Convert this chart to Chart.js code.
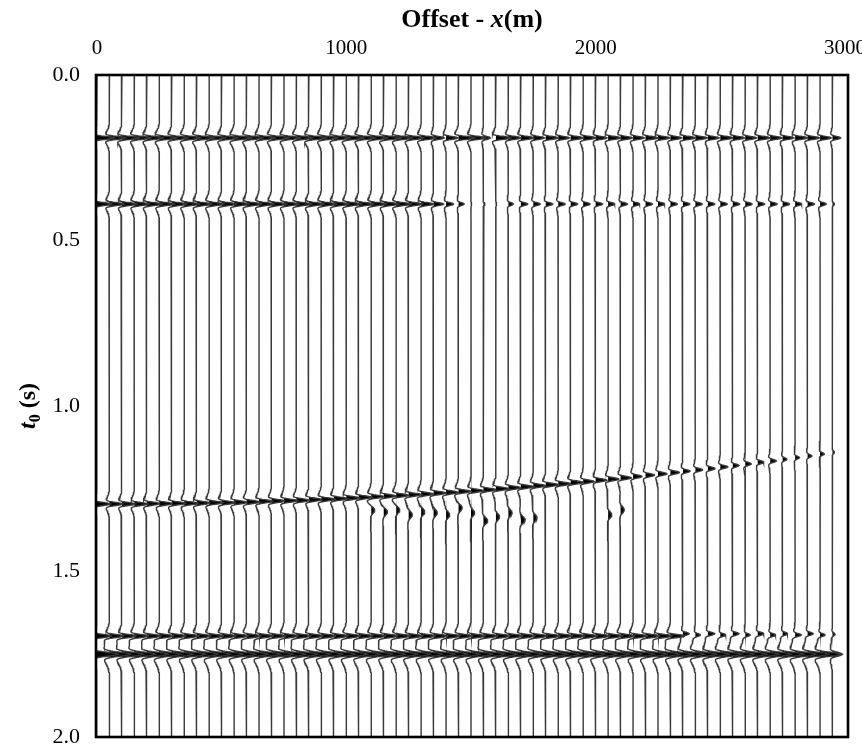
<!DOCTYPE html>
<html>
<head>
<meta charset="utf-8">
<script src="https://cdn.jsdelivr.net/npm/chart.js@4.4.1/dist/chart.umd.min.js"></script>
<style>
  html, body { margin: 0; padding: 0; background: #fff; }
  canvas { display: block; }
</style>
</head>
<body>
<canvas id="gather" width="862" height="746"></canvas>
<script>
// Receiver offsets (m), one wiggle trace per offset
const offsets = [
  0, 50, 100, 150, 200, 250, 300, 350, 400, 450,
  500, 550, 600, 650, 700, 750, 800, 850, 900, 950,
  1000, 1050, 1100, 1150, 1200, 1250, 1300, 1350, 1400, 1450,
  1500, 1550, 1600, 1650, 1700, 1750, 1800, 1850, 1900, 1950,
  2000, 2050, 2100, 2150, 2200, 2250, 2300, 2350, 2400, 2450,
  2500, 2550, 2600, 2650, 2700, 2750, 2800, 2850, 2900, 2950
];

// Axis tick values
const offsetTicks = [0, 1000, 2000, 3000];
const timeTicks = [0, 0.5, 1.0, 1.5, 2.0];

// Zero-phase source pulse, sampled every 2 ms from -40 ms to +40 ms
const pulse = [
  -0.022, -0.029, -0.037, -0.047, -0.059, -0.073, -0.090, -0.108, -0.129, -0.151,
  -0.175, -0.199, -0.221, -0.236, -0.228, -0.168, -0.017, 0.247, 0.584, 0.881,
  1.000,
  0.881, 0.584, 0.247, -0.017, -0.168, -0.228, -0.236, -0.221, -0.199, -0.175,
  -0.151, -0.129, -0.108, -0.090, -0.073, -0.059, -0.047, -0.037, -0.029, -0.022
];

// Reflection 1: flat at 0.19 s; amplitudes in trace spacings
const r1Time = 0.19;
const r1Amp = [
  1.4, 1.3, 1.4, 1.3, 1.3, 1.4, 1.3, 1.3, 1.4, 1.3,
  1.3, 1.4, 1.3, 1.3, 1.4, 1.3, 1.3, 1.4, 1.3, 1.3,
  1.4, 1.3, 1.3, 1.4, 1.3, 1.2, 1.2, 0.85, 0.95, 1.3,
  1.2, 0.55, 1.2, 1.0, 1.05, 0.9, 1.0, 0.9, 1.0, 1.0,
  0.9, 1.0, 0.95, 0.9, 1.0, 0.95, 0.9, 1.0, 0.95, 0.9,
  1.0, 0.95, 0.9, 1.0, 0.95, 0.9, 1.0, 0.95, 0.9, 0.65
];

// Reflection 2: flat at 0.39 s, dim between 1500 and 1600 m
const r2Time = 0.39;
const r2Amp = [
  1.2, 1.2, 1.2, 1.2, 1.2, 1.2, 1.2, 1.2, 1.2, 1.2,
  1.2, 1.2, 1.2, 1.2, 1.2, 1.2, 1.2, 1.2, 1.2, 1.2,
  1.2, 1.2, 1.2, 1.2, 1.2, 1.1, 1.0, 0.8, 0.6, 0.45,
  0.05, 0.12, 0.05, 0.4, 0.55, 0.55, 0.55, 0.55, 0.55, 0.55,
  0.55, 0.55, 0.55, 0.55, 0.55, 0.55, 0.55, 0.55, 0.55, 0.55,
  0.55, 0.55, 0.55, 0.55, 0.55, 0.55, 0.55, 0.55, 0.5, 0.15
];

// Reflection 3: rises from 1.30 s to 1.14 s across the spread
const r3Time = [
  1.296, 1.296, 1.296, 1.296, 1.295, 1.295, 1.294, 1.294, 1.293, 1.292,
  1.292, 1.291, 1.290, 1.288, 1.287, 1.286, 1.285, 1.283, 1.282, 1.280,
  1.278, 1.276, 1.274, 1.272, 1.270, 1.268, 1.266, 1.263, 1.261, 1.258,
  1.256, 1.253, 1.250, 1.247, 1.244, 1.241, 1.238, 1.235, 1.231, 1.228,
  1.224, 1.221, 1.217, 1.213, 1.209, 1.205, 1.201, 1.197, 1.193, 1.189,
  1.184, 1.180, 1.175, 1.170, 1.166, 1.161, 1.156, 1.151, 1.145, 1.140
];
const r3Amp = [
  1.1, 1.1, 1.1, 1.1, 1.1, 1.1, 1.1, 1.1, 1.1, 1.1,
  1.1, 1.1, 1.1, 1.1, 1.1, 1.1, 1.1, 1.1, 1.1, 1.1,
  1.1, 1.05, 1.05, 1.05, 1.05, 1.05, 1.05, 1.05, 1.05, 1.05,
  1.05, 1.05, 1.05, 1.05, 1.05, 1.05, 1.05, 1.05, 1.05, 0.9,
  0.9, 0.9, 0.9, 0.75, 0.75, 0.75, 0.75, 0.6, 0.6, 0.6,
  0.6, 0.5, 0.5, 0.5, 0.5, 0.35, 0.35, 0.35, 0.35, 0.15
];

// Reflection 4: near 1.70 s, breaking up beyond 2300 m
const r4Time = [
  1.695, 1.695, 1.695, 1.695, 1.695, 1.695, 1.695, 1.695, 1.695, 1.695,
  1.695, 1.695, 1.695, 1.695, 1.695, 1.695, 1.695, 1.695, 1.695, 1.695,
  1.695, 1.695, 1.695, 1.695, 1.695, 1.695, 1.695, 1.695, 1.695, 1.695,
  1.695, 1.695, 1.695, 1.695, 1.695, 1.695, 1.695, 1.695, 1.695, 1.695,
  1.695, 1.695, 1.695, 1.695, 1.695, 1.695, 1.695, 1.688, 1.692, 1.688,
  1.692, 1.688, 1.692, 1.688, 1.692, 1.688, 1.692, 1.688, 1.692, 1.690
];
const r4Amp = [
  1.2, 1.2, 1.2, 1.2, 1.2, 1.2, 1.2, 1.2, 1.2, 1.2,
  1.2, 1.2, 1.2, 1.2, 1.2, 1.2, 1.2, 1.2, 1.2, 1.2,
  1.2, 1.2, 1.2, 1.2, 1.2, 1.2, 1.2, 1.2, 1.2, 1.2,
  1.2, 1.2, 1.2, 1.2, 1.2, 1.2, 1.2, 1.2, 1.2, 1.2,
  1.2, 1.2, 1.2, 1.2, 1.2, 1.2, 1.2, 0.5, 0.4, 0.55,
  0.45, 0.5, 0.4, 0.5, 0.45, 0.4, 0.5, 0.45, 0.4, 0.2
];

// Reflection 5: strong flat event at 1.75 s
const r5Time = 1.75;
const r5Amp = [
  1.7, 1.7, 1.7, 1.7, 1.7, 1.7, 1.7, 1.7, 1.7, 1.7,
  1.7, 1.7, 1.7, 1.7, 1.7, 1.7, 1.7, 1.7, 1.7, 1.7,
  1.7, 1.7, 1.7, 1.7, 1.7, 1.7, 1.7, 1.7, 1.7, 1.7,
  1.7, 1.7, 1.7, 1.7, 1.7, 1.7, 1.7, 1.7, 1.7, 1.7,
  1.7, 1.7, 1.7, 1.7, 1.7, 1.7, 1.7, 1.7, 1.7, 1.7,
  1.7, 1.7, 1.7, 1.7, 1.7, 1.7, 1.7, 1.7, 1.7, 0.8
];

// Weak late arrivals below reflection 3 (null = none on that trace)
const lateTime = [
  null, null, null, null, null, null, null, null, null, null,
  null, null, null, null, null, null, null, null, null, null,
  null, null, 1.314, 1.320, 1.314, 1.329, 1.320, 1.323, 1.329, 1.308,
  1.323, 1.347, 1.335, 1.323, 1.344, 1.338, null, null, null, null,
  null, 1.329, 1.314, null, null, null, null, null, null, null,
  null, null, null, null, null, null, null, null, null, null
];
const lateAmp = [
  0, 0, 0, 0, 0, 0, 0, 0, 0, 0,
  0, 0, 0, 0, 0, 0, 0, 0, 0, 0,
  0, 0, 0.3, 0.3, 0.3, 0.3, 0.3, 0.3, 0.3, 0.3,
  0.3, 0.35, 0.3, 0.3, 0.35, 0.3, 0, 0, 0, 0,
  0, 0.3, 0.3, 0, 0, 0, 0, 0, 0, 0,
  0, 0, 0, 0, 0, 0, 0, 0, 0, 0
];

// Pulse length factor for each arrival above (1 = source pulse)
const pulseLength = [1, 1, 1, 1, 1.35, 2.2];

const traceGain = 50;        // metres of deflection per unit amplitude
const sampleMs = 2;
const sampleCount = 1001;    // 0 .. 2 s

function arrivalsFor(k) {
  return [
    [r1Time, r1Amp[k]],
    [r2Time, r2Amp[k]],
    [r3Time[k], r3Amp[k]],
    [r4Time[k], r4Amp[k]],
    [r5Time, r5Amp[k]],
    [lateTime[k], lateAmp[k]]
  ];
}

// Convolve the pulse with the arrivals of one trace
function traceSamples(k) {
  const s = new Float64Array(sampleCount);
  arrivalsFor(k).forEach(([t, a], e) => {
    if (t === null || !a) return;
    const stretch = pulseLength[e];
    const tMs = t * 1000;
    const half = 40 * stretch;
    const n0 = Math.max(0, Math.ceil((tMs - half) / sampleMs));
    const n1 = Math.min(sampleCount - 1, Math.floor((tMs + half) / sampleMs));
    for (let n = n0; n <= n1; n++) {
      const u = ((n * sampleMs - tMs) / stretch) / 2 + 20;
      const i = Math.floor(u);
      const f = u - i;
      if (i < 0 || i > 40) continue;
      const w = i === 40 ? pulse[40] : pulse[i] * (1 - f) + pulse[i + 1] * f;
      s[n] += a * w;
    }
  });
  return s;
}

// Keep only samples that are non-zero or border a non-zero sample
function toPoints(values, base) {
  const pts = [];
  for (let n = 0; n < values.length; n++) {
    const v = values[n];
    const prev = n > 0 ? values[n - 1] : 0;
    const next = n < values.length - 1 ? values[n + 1] : 0;
    if (n === 0 || n === values.length - 1 || v !== 0 || prev !== 0 || next !== 0) {
      pts.push({ x: base + traceGain * v, y: n * sampleMs / 1000 });
    }
  }
  return pts;
}

const datasets = [];
offsets.forEach((off, k) => {
  const s = traceSamples(k);
  const positive = Array.from(s, v => (v > 0 ? v : 0));
  // filled positive lobes
  datasets.push({
    data: toPoints(positive, off),
    showLine: true,
    borderWidth: 0,
    borderColor: 'rgba(0,0,0,0)',
    backgroundColor: '#000',
    pointRadius: 0,
    tension: 0,
    fill: { value: off },
    order: 2
  });
  // wiggle line
  datasets.push({
    data: toPoints(Array.from(s), off),
    showLine: true,
    borderWidth: 1.4,
    borderColor: '#3a3a3a',
    pointRadius: 0,
    tension: 0,
    fill: false,
    order: 1
  });
});

const serif = "'Liberation Serif', 'Times New Roman', serif";

// Frame round the plotting area
const frame = {
  id: 'frame',
  afterDatasetsDraw(chart) {
    const { ctx, chartArea: a } = chart;
    ctx.save();
    ctx.strokeStyle = '#000';
    ctx.lineWidth = 2.6;
    ctx.strokeRect(a.left, a.top, a.right - a.left, a.bottom - a.top);
    ctx.restore();
  }
};

// Axis titles with italic symbols and a subscript
const axisTitles = {
  id: 'axisTitles',
  afterDraw(chart) {
    const { ctx, chartArea: a } = chart;
    ctx.save();
    ctx.fillStyle = '#000';
    ctx.textBaseline = 'alphabetic';

    const drawRun = (parts, cx, cy) => {
      let total = 0;
      parts.forEach(p => { ctx.font = p.font; total += ctx.measureText(p.text).width; });
      let x = cx - total / 2;
      parts.forEach(p => {
        ctx.font = p.font;
        ctx.fillText(p.text, x, cy + (p.dy || 0));
        x += ctx.measureText(p.text).width;
      });
    };

    drawRun([
      { text: 'Offset - ', font: `bold 26px ${serif}` },
      { text: 'x', font: `italic bold 26px ${serif}` },
      { text: '(m)', font: `bold 26px ${serif}` }
    ], (a.left + a.right) / 2, 27);

    ctx.translate(35, (a.top + a.bottom) / 2);
    ctx.rotate(-Math.PI / 2);
    drawRun([
      { text: 't', font: `italic bold 24px ${serif}` },
      { text: '0', font: `bold 16px ${serif}`, dy: 5 },
      { text: ' (s)', font: `bold 24px ${serif}` }
    ], 0, 0);
    ctx.restore();
  }
};

new Chart(document.getElementById('gather'), {
  type: 'scatter',
  data: { datasets },
  options: {
    indexAxis: 'y',
    responsive: false,
    animation: false,
    events: [],
    layout: { padding: { left: 0, top: 0, right: 14, bottom: 9 } },
    plugins: {
      legend: { display: false },
      tooltip: { enabled: false },
      title: { display: false }
    },
    scales: {
      x: {
        type: 'linear',
        position: 'top',
        min: -4,
        max: 3012,
        grid: { display: false, drawTicks: false },
        border: { display: false },
        afterBuildTicks: scale => { scale.ticks = offsetTicks.map(v => ({ value: v })); },
        afterFit: scale => {
          scale.height = 75;
          scale.paddingLeft = 0; scale.paddingRight = 0;
          scale.paddingTop = 0; scale.paddingBottom = 0;
        },
        ticks: {
          padding: 14,
          color: '#000',
          font: { family: serif, size: 21 },
          maxRotation: 0,
          callback: v => String(v)
        }
      },
      y: {
        type: 'linear',
        position: 'left',
        reverse: true,
        min: 0,
        max: 2,
        grid: { display: false, drawTicks: false },
        border: { display: false },
        afterBuildTicks: scale => { scale.ticks = timeTicks.map(v => ({ value: v })); },
        afterFit: scale => {
          scale.width = 96;
          scale.paddingLeft = 0; scale.paddingRight = 0;
          scale.paddingTop = 0; scale.paddingBottom = 0;
        },
        ticks: {
          padding: 16,
          color: '#000',
          font: { family: serif, size: 22 },
          callback: v => Number(v).toFixed(1)
        }
      }
    }
  },
  plugins: [frame, axisTitles]
});
</script>
</body>
</html>
